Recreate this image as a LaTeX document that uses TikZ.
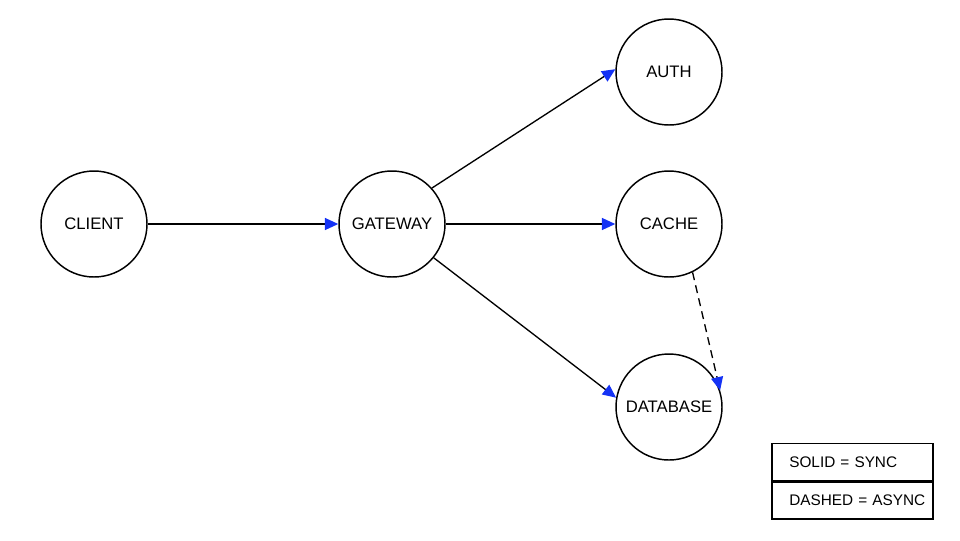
\documentclass[tikz,border=0pt]{standalone}
\usepackage{fontspec}
\setmainfont{Liberation Sans}
\usetikzlibrary{arrows.meta}
\definecolor{tipblue}{RGB}{20,50,245}
\begin{document}
\begin{tikzpicture}[x=0.75pt,y=-0.75pt,
  svc/.style={circle,draw,line width=1.1pt,minimum size=79.5pt,inner sep=0pt,font=\fontsize{12.5}{14}\selectfont},
  edge/.style={line width=1pt,-{Triangle[length=10pt,width=9pt,fill=tipblue,color=tipblue]}},
  leg/.style={draw,line width=1pt,minimum width=120.75pt,minimum height=27.75pt,inner sep=0pt,font=\fontsize{11.5}{13}\selectfont,text width=120.75pt,align=left}]
\useasboundingbox (0,0) rectangle (960,540);
\node[svc] (client) at (94,224) {CLIENT};
\node[svc] (gw) at (392,224) {GATEWAY};
\node[svc] (auth) at (669,72) {AUTH};
\node[svc] (cache) at (669,224) {CACHE};
\node[svc] (db) at (669,407) {DATABASE};
\draw[edge] (client) -- (gw);
\draw[edge] (gw.42) -- (auth.177);
\draw[edge] (gw) -- (cache);
\draw[edge] (gw.-39) -- (db.170);
\draw[edge,dashed,dash pattern=on 6pt off 4pt] (cache.-64) -- (db.18);
\node[leg] (l1) at (852.5,462) {\hspace*{13pt}SOLID = SYNC};
\node[leg,anchor=north] (l2) at (l1.south) {\hspace*{13pt}DASHED = ASYNC};
\end{tikzpicture}
\end{document}
